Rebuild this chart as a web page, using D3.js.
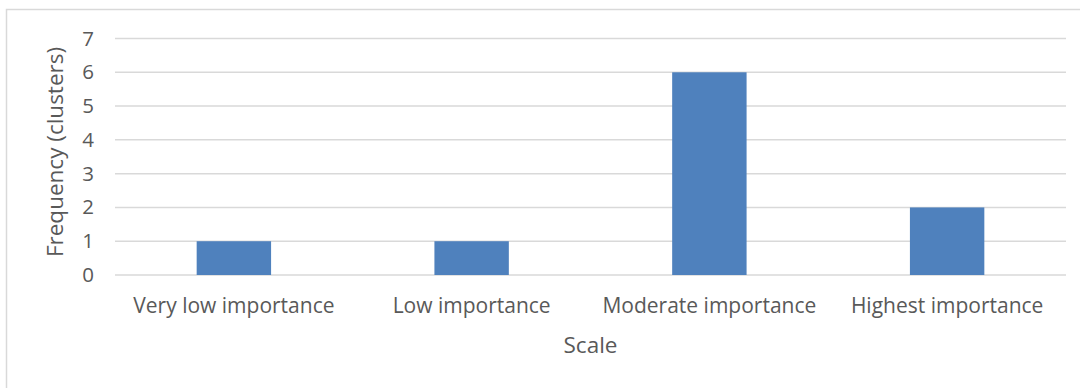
<!DOCTYPE html>
<html>
<head>
<meta charset="utf-8">
<script src="https://cdn.jsdelivr.net/npm/d3@7"></script>
<style>
  html, body { margin: 0; padding: 0; background: #fff; }
  svg { display: block; }
  text { font-family: "Open Sans", "Noto Sans", sans-serif; fill: #595959; }
</style>
</head>
<body>
<script>
// Chart data
const categories = ["Very low importance", "Low importance", "Moderate importance", "Highest importance"];
const frequencies = [1, 1, 6, 2];
const yTicks = [0, 1, 2, 3, 4, 5, 6, 7];
const xTitle = "Scale";
const yTitle = "Frequency (clusters)";

const W = 1080, H = 388;
const plot = { left: 115, right: 1066, top: 38.5, bottom: 275 };

const svg = d3.select("body").append("svg")
  .attr("width", W).attr("height", H);

// Chart frame
svg.append("rect")
  .attr("x", 6.5).attr("y", 9.5)
  .attr("width", W + 10).attr("height", H + 10)
  .attr("fill", "#fff").attr("stroke", "#d9d9d9").attr("stroke-width", 1.5);

const x = d3.scaleBand()
  .domain(categories)
  .range([plot.left, plot.right])
  .paddingInner(0.687)
  .paddingOuter(0.687 / 2);

const y = d3.scaleLinear()
  .domain([0, 7])
  .range([plot.bottom, plot.top]);

// Horizontal gridlines
svg.append("g")
  .selectAll("line")
  .data(yTicks)
  .join("line")
  .attr("x1", plot.left).attr("x2", plot.right)
  .attr("y1", d => y(d)).attr("y2", d => y(d))
  .attr("stroke", "#d9d9d9").attr("stroke-width", 1.5);

// Y axis labels
const yAxis = d3.axisLeft(y).tickValues(yTicks).tickFormat(d3.format("d"))
  .tickSize(0).tickPadding(21);
const gy = svg.append("g").attr("transform", `translate(${plot.left},0)`).call(yAxis);
gy.select(".domain").remove();
gy.selectAll("text")
  .style("font-size", "20.5px")
  .attr("fill", "#595959");

// Bars
svg.append("g")
  .selectAll("rect")
  .data(frequencies)
  .join("rect")
  .attr("x", (d, i) => x(categories[i]))
  .attr("width", x.bandwidth())
  .attr("y", d => y(d))
  .attr("height", d => y(0) - y(d))
  .attr("fill", "#4f81bd");

// X axis labels
const xAxis = d3.axisBottom(x).tickSize(0).tickPadding(23.5);
const gx = svg.append("g").attr("transform", `translate(0,${plot.bottom})`).call(xAxis);
gx.select(".domain").remove();
gx.selectAll("text")
  .style("font-size", "21px")
  .attr("fill", "#595959");

// Axis titles
svg.append("text")
  .attr("x", (plot.left + plot.right) / 2)
  .attr("y", 353)
  .attr("text-anchor", "middle")
  .style("font-size", "22.5px")
  .text(xTitle);

svg.append("text")
  .attr("transform", "translate(63,152) rotate(-90)")
  .attr("text-anchor", "middle")
  .style("font-size", "22.5px")
  .text(yTitle);
</script>
</body>
</html>
